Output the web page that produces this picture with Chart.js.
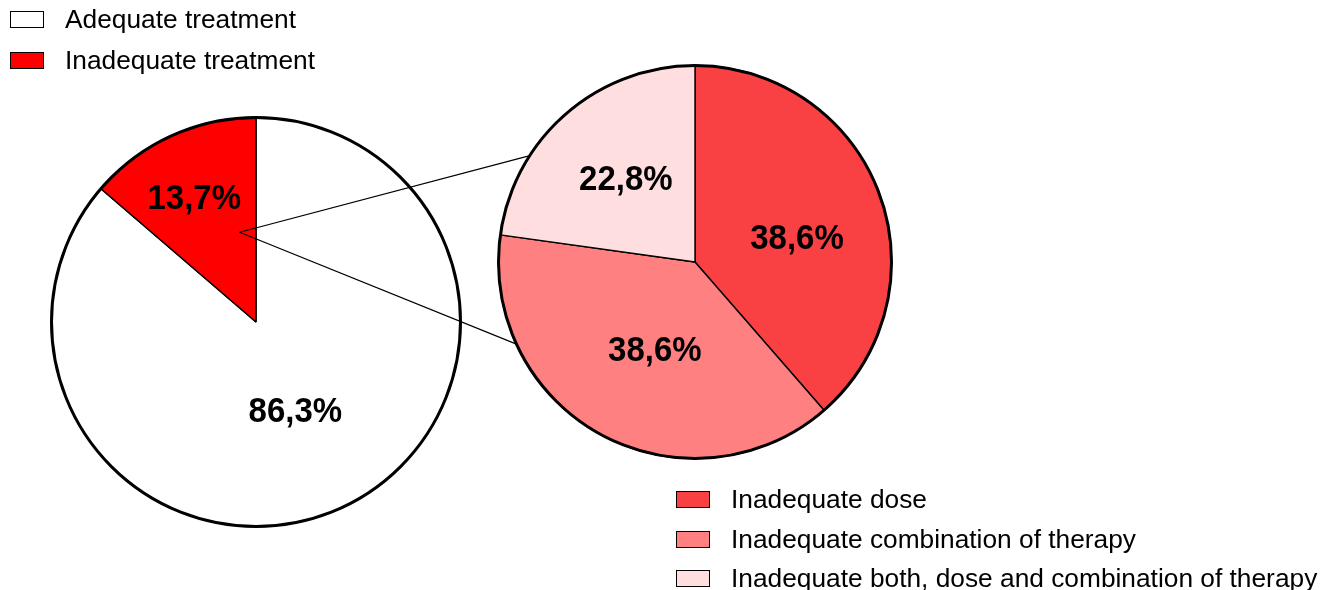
<!DOCTYPE html>
<html>
<head>
<meta charset="utf-8">
<script src="https://cdn.jsdelivr.net/npm/chart.js@4.4.0/dist/chart.umd.min.js"></script>
<style>
  html, body { margin: 0; padding: 0; background: #fff; }
  #stage {
    position: relative; width: 1328px; height: 590px; overflow: hidden;
    font-family: "Liberation Sans", Arial, sans-serif; color: #000;
  }
  #stage canvas { position: absolute; }
  .row {
    position: absolute; display: flex; align-items: center; height: 30px;
    font-size: 26.3px; white-space: nowrap;
  }
  .swatch {
    box-sizing: border-box; width: 34px; height: 17px;
    border: 1.6px solid #000; margin-right: 21px; flex: none;
  }
</style>
</head>
<body>
<div id="stage">
  <canvas id="overview" width="420" height="420" style="left:46px;top:112px"></canvas>
  <canvas id="detail" width="410" height="410" style="left:490px;top:57px"></canvas>
  <canvas id="links" width="1328" height="590" style="left:0;top:0;pointer-events:none"></canvas>
  <div id="overviewLegend"></div>
  <div id="detailLegend"></div>
</div>
<script>
// Treatment overview
const overviewLabels = ['Adequate treatment', 'Inadequate treatment'];
const overviewValues = [86.3, 13.7];
const overviewColors = ['#FFFFFF', '#FF0000'];

// Breakdown of inadequate treatment
const detailLabels = [
  'Inadequate dose',
  'Inadequate combination of therapy',
  'Inadequate both, dose and combination of therapy'
];
const detailValues = [38.6, 38.6, 22.8];
const detailColors = ['#F94144', '#FF8080', '#FFDEE0'];

const fmt = v => v.toFixed(1).replace('.', ',') + '%';

// Thick outer rim plus the percentage written inside every slice
const pieDecor = {
  id: 'pieDecor',
  afterDatasetsDraw(chart, args, opts) {
    const ctx = chart.ctx;
    const arcs = chart.getDatasetMeta(0).data;
    const values = chart.data.datasets[0].data;
    const first = arcs[0].getProps(['x', 'y', 'outerRadius'], true);
    ctx.save();
    ctx.beginPath();
    ctx.arc(first.x, first.y, first.outerRadius, 0, Math.PI * 2);
    ctx.lineWidth = opts.rimWidth;
    ctx.strokeStyle = '#000';
    ctx.stroke();
    ctx.font = opts.font;
    ctx.fillStyle = '#000';
    ctx.textAlign = 'center';
    ctx.textBaseline = 'middle';
    arcs.forEach((el, i) => {
      const a = el.getProps(['x', 'y', 'startAngle', 'endAngle', 'outerRadius'], true);
      const spot = opts.spots[i];
      const ang = (a.startAngle + a.endAngle) / 2 + spot.shift * Math.PI / 180;
      const r = a.outerRadius * spot.r;
      ctx.save();
      ctx.translate(a.x + Math.cos(ang) * r, a.y + Math.sin(ang) * r);
      ctx.scale(1, opts.stretchY);
      ctx.fillText(fmt(values[i]), 0, 0);
      ctx.restore();
    });
    ctx.restore();
  }
};

function makePie(id, labels, values, colors, radius, spots) {
  return new Chart(document.getElementById(id), {
    type: 'pie',
    data: {
      labels: labels,
      datasets: [{
        data: values,
        backgroundColor: colors,
        borderColor: '#000',
        borderWidth: 1.4
      }]
    },
    options: {
      responsive: false,
      animation: false,
      devicePixelRatio: 1,
      events: [],
      radius: radius,
      rotation: 0,
      layout: { padding: 0 },
      plugins: {
        legend: { display: false },
        tooltip: { enabled: false },
        pieDecor: {
          rimWidth: 3,
          font: 'bold 33px "Liberation Sans", Arial, sans-serif',
          stretchY: 1.09,
          spots: spots
        }
      }
    },
    plugins: [pieDecor]
  });
}

const overviewChart = makePie('overview', overviewLabels, overviewValues, overviewColors, 204.5,
  [{ r: 0.48, shift: 1 }, { r: 0.673, shift: -2 }]);
const detailChart = makePie('detail', detailLabels, detailValues, detailColors, 196.5,
  [{ r: 0.532, shift: 7.8 }, { r: 0.497, shift: -4.2 }, { r: 0.546, shift: 0.9 }]);

// Connector lines from the inadequate slice to the breakdown pie
const LINK = { slice: 1, along: 0.79, depth: 0.446, targets: [-57.2, -114.7], width: 1.2 };

function drawLinks() {
  const cv = document.getElementById('links');
  const ctx = cv.getContext('2d');
  const offA = overviewChart.canvas, offB = detailChart.canvas;
  const src = overviewChart.getDatasetMeta(0).data[LINK.slice]
    .getProps(['x', 'y', 'startAngle', 'endAngle', 'outerRadius'], true);
  const ang = src.startAngle + (src.endAngle - src.startAngle) * LINK.along;
  const fx = offA.offsetLeft + src.x + Math.cos(ang) * src.outerRadius * LINK.depth;
  const fy = offA.offsetTop + src.y + Math.sin(ang) * src.outerRadius * LINK.depth;
  const dst = detailChart.getDatasetMeta(0).data[0].getProps(['x', 'y', 'outerRadius'], true);
  ctx.strokeStyle = '#000';
  ctx.lineWidth = LINK.width;
  LINK.targets.forEach(deg => {
    const t = (deg - 90) * Math.PI / 180;
    ctx.beginPath();
    ctx.moveTo(fx, fy);
    ctx.lineTo(offB.offsetLeft + dst.x + Math.cos(t) * dst.outerRadius,
               offB.offsetTop + dst.y + Math.sin(t) * dst.outerRadius);
    ctx.stroke();
  });
}
drawLinks();

// Legends built from the chart series
function buildLegend(hostId, labels, colors, left, centers) {
  const host = document.getElementById(hostId);
  labels.forEach((lab, i) => {
    const row = document.createElement('div');
    row.className = 'row';
    row.style.left = left + 'px';
    row.style.top = (centers[i] - 15) + 'px';
    const sw = document.createElement('span');
    sw.className = 'swatch';
    sw.style.background = colors[i];
    const tx = document.createElement('span');
    tx.textContent = lab;
    row.appendChild(sw);
    row.appendChild(tx);
    host.appendChild(row);
  });
}
buildLegend('overviewLegend', overviewLabels, overviewColors, 10, [19.5, 60]);
buildLegend('detailLegend', detailLabels, detailColors, 676, [499, 539, 578]);
</script>
</body>
</html>
